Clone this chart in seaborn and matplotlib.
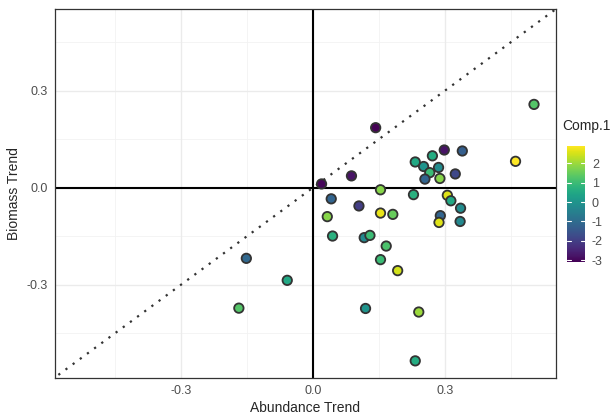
import numpy as np
import pandas as pd
import matplotlib
matplotlib.use("Agg")
import matplotlib.pyplot as plt
import seaborn as sns

# values
abundance = [0.503, 0.461, 0.299, 0.340, 0.272, 0.252, 0.286, 0.266, 0.255, 0.289,
             0.324, 0.143, 0.088, 0.020, 0.233, 0.306, 0.314, 0.336, 0.290, 0.287,
             0.335, 0.154, 0.229, 0.042, 0.105, 0.033, 0.154, 0.182, 0.045, 0.117,
             0.130, 0.167, 0.154, 0.193, -0.151, -0.058, -0.168, 0.120, 0.241, 0.233]
biomass = [0.258, 0.082, 0.117, 0.114, 0.099, 0.066, 0.063, 0.047, 0.027, 0.029,
           0.043, 0.186, 0.037, 0.012, 0.080, -0.023, -0.040, -0.063, -0.086, -0.107,
           -0.104, -0.006, -0.021, -0.034, -0.056, -0.089, -0.078, -0.082, -0.149, -0.154,
           -0.147, -0.180, -0.222, -0.256, -0.218, -0.286, -0.372, -0.373, -0.384, -0.535]
comp1 = [1.3, 2.9, -2.8, -1.3, 0.6, 0.0, -0.2, 1.0, -1.2, 1.8,
         -1.8, -3.1, -2.8, -3.0, 0.5, 2.6, 0.5, -0.2, -1.2, 2.6,
         -0.3, 1.8, 0.7, -1.2, -2.0, 1.8, 2.7, 1.5, 0.7, -0.3,
         1.0, 1.2, 1.0, 2.5, -1.1, 0.5, 1.3, 0.0, 2.0, 0.6]
cbar_ticks = [-3, -2, -1, 0, 1, 2]

df = pd.DataFrame({"Abundance": abundance, "Biomass": biomass, "Comp.1": comp1})

sns.set_style("white")
plt.rcParams["font.family"] = ["Liberation Sans", "DejaVu Sans"]
plt.rcParams["axes.unicode_minus"] = False

fig = plt.figure(figsize=(6.16, 4.16), dpi=100)
ax = fig.add_axes([55 / 616, 1 - 378 / 416, (556 - 55) / 616, (378 - 9) / 416])

# grid (ggplot theme_bw look)
for v in [-0.45, -0.15, 0.15, 0.45]:
    ax.axvline(v, color="#F2F2F2", lw=0.6, zorder=0)
    ax.axhline(v, color="#F2F2F2", lw=0.6, zorder=0)
for v in [-0.3, 0.0, 0.3]:
    ax.axvline(v, color="#EBEBEB", lw=1.0, zorder=0)
    ax.axhline(v, color="#EBEBEB", lw=1.0, zorder=0)

# reference lines
ax.axhline(0, color="black", lw=1.5, zorder=1)
ax.axvline(0, color="black", lw=1.5, zorder=1)
ax.plot([-1, 1], [-1, 1], color="#333333", lw=1.6, linestyle=(0, (1, 3)), zorder=1)

norm = plt.Normalize(-3.1, 2.9)
sns.scatterplot(data=df, x="Abundance", y="Biomass", hue="Comp.1", palette="viridis",
                hue_norm=norm, s=46, edgecolor="#333333", linewidth=1.3,
                legend=False, zorder=3, ax=ax)

ax.set_xlim(-0.586, 0.553)
ax.set_ylim(-0.588, 0.553)
ax.set_xticks([-0.3, 0.0, 0.3])
ax.set_yticks([-0.3, 0.0, 0.3])
ax.set_xticklabels(["-0.3", "0.0", "0.3"])
ax.set_yticklabels(["-0.3", "0.0", "0.3"])
ax.tick_params(length=3, width=0.8, color="#333333", labelcolor="#4D4D4D", labelsize=9, pad=2)
for sp in ax.spines.values():
    sp.set_color("#333333")
    sp.set_linewidth(0.9)
ax.set_xlabel("Abundance Trend", fontsize=10, labelpad=3)
ax.set_ylabel("Biomass Trend", fontsize=10, labelpad=4)

# colourbar
cax = fig.add_axes([567 / 616, 1 - 262 / 416, 18 / 616, 116 / 416])
sm = plt.cm.ScalarMappable(norm=norm, cmap="viridis")
cb = fig.colorbar(sm, cax=cax, ticks=cbar_ticks)
cb.outline.set_visible(False)
cax.tick_params(length=0, labelsize=9, labelcolor="#4D4D4D", pad=5)
for t in cbar_ticks:
    cax.plot([0, 0.2], [t, t], color="white", lw=0.8, transform=cax.get_yaxis_transform())
    cax.plot([0.8, 1], [t, t], color="white", lw=0.8, transform=cax.get_yaxis_transform())
fig.text(562 / 616, 1 - 126 / 416, "Comp.1", fontsize=10, ha="left", va="center")

plt.savefig("out.png", dpi=100)
plt.close()
